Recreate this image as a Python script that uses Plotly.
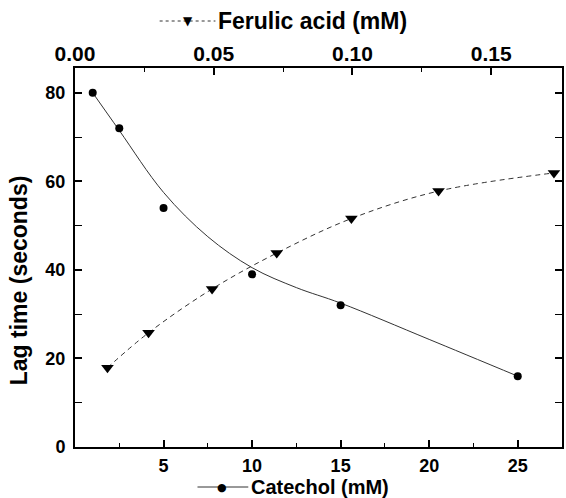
import plotly.graph_objects as go

# Catechol series (bottom axis, mM) and its fitted trend line
catechol_mm = [1, 2.5, 5, 10, 15, 25]
catechol_lag = [80, 72, 54, 39, 32, 16]
catechol_fit_mm = [1, 2.5, 5, 7.5, 10, 12.5, 15, 20, 25]
catechol_fit_lag = [80, 71.5, 57.5, 47.5, 40.5, 36, 32.5, 24.3, 16]

# Ferulic acid series (top axis, mM)
ferulic_mm = [0.0117, 0.0265, 0.0494, 0.0727, 0.0996, 0.131, 0.1726]
ferulic_lag = [17.9, 25.8, 35.7, 43.8, 51.6, 57.8, 61.9]

bottom_ticks = [5, 10, 15, 20, 25]
bottom_minor = [2.5, 7.5, 12.5, 17.5, 22.5]
top_ticks = [0.0, 0.05, 0.10, 0.15]
top_minor = [0.025, 0.075, 0.125]
y_ticks = [0, 20, 40, 60, 80]

FONT = "Liberation Sans"
INK = "black"

# plot-area geometry in pixels
L, R, T, B = 75, 2, 68, 51
W, H = 566, 498
PW, PH = W - L - R, H - T - B


def px(xp):
    return (xp - L) / PW


def py(yp):
    return (H - B - yp) / PH


fig = go.Figure()

fig.add_trace(go.Scatter(
    x=catechol_fit_mm, y=catechol_fit_lag, mode="lines",
    line=dict(color="#333333", width=1, shape="spline", smoothing=1.0),
    xaxis="x", yaxis="y", hoverinfo="skip", showlegend=False))
fig.add_trace(go.Scatter(
    x=catechol_mm, y=catechol_lag, mode="markers",
    marker=dict(symbol="circle", size=8, color=INK),
    xaxis="x", yaxis="y", name="Catechol", showlegend=False))

fig.add_trace(go.Scatter(
    x=ferulic_mm, y=ferulic_lag, mode="lines+markers",
    line=dict(color="#333333", width=1, dash="5px,4px", shape="spline", smoothing=1.0),
    marker=dict(symbol="triangle-down", size=11, color=INK),
    xaxis="x2", yaxis="y", name="Ferulic acid", showlegend=False))

axis_common = dict(
    showgrid=False, zeroline=False, showline=True, linecolor=INK, linewidth=2,
    ticks="inside", ticklen=7, tickwidth=1.5, tickcolor=INK,
)


def tick_font(size):
    return dict(family=FONT, size=size, color=INK, weight="bold")


fig.update_layout(
    width=W, height=H,
    margin=dict(l=L, r=R, t=T, b=B),
    paper_bgcolor="white", plot_bgcolor="white",
    xaxis=dict(
        **axis_common, tickfont=tick_font(18),
        range=[0, 27.5], tickmode="array", tickvals=bottom_ticks,
        minor=dict(tickmode="array", tickvals=bottom_minor, ticks="inside",
                   ticklen=4, tickwidth=1.2, tickcolor=INK),
        mirror=False, ticklabelstandoff=1,
    ),
    xaxis2=dict(
        **axis_common, tickfont=tick_font(21),
        range=[0, 0.1755], overlaying="x", side="top",
        tickmode="array", tickvals=top_ticks, tickformat=".2f",
        minor=dict(tickmode="array", tickvals=top_minor, ticks="inside",
                   ticklen=4, tickwidth=1.2, tickcolor=INK),
        ticklabelstandoff=-3,
    ),
    yaxis=dict(
        **axis_common, tickfont=tick_font(18),
        range=[0, 85.6], tickmode="array", tickvals=y_ticks,
        minor=dict(dtick=10, ticks="inside", ticklen=7, tickwidth=1.2, tickcolor=INK),
        mirror="ticks", ticklabelstandoff=4,
    ),
)

# Y axis title
fig.add_annotation(
    text="Lag time (seconds)", xref="paper", yref="paper",
    x=px(19), y=py(280), xanchor="center", yanchor="middle", textangle=-90,
    showarrow=False, font=dict(family=FONT, size=23, color=INK, weight="bold"))

# Top axis title with its line key
ty = py(21)
fig.add_shape(type="line", xref="paper", yref="paper",
              x0=px(160), x1=px(216), y0=ty, y1=ty,
              line=dict(color="#333333", width=1, dash="3px,3px"))
fig.add_annotation(
    text="▼", xref="paper", yref="paper",
    x=px(188), y=ty, xanchor="center", yanchor="middle",
    showarrow=False, font=dict(family="DejaVu Sans", size=12, color=INK))
fig.add_annotation(
    text="Ferulic acid (mM)", xref="paper", yref="paper",
    x=px(217), y=ty, xanchor="left", yanchor="middle",
    showarrow=False, font=dict(family=FONT, size=23, color=INK, weight="bold"))

# Bottom axis title with its marker key
by = py(487)
fig.add_shape(type="line", xref="paper", yref="paper",
              x0=px(198), x1=px(249), y0=by, y1=by,
              line=dict(color="#333333", width=1))
fig.add_annotation(
    text="●", xref="paper", yref="paper",
    x=px(223), y=by, xanchor="center", yanchor="middle",
    showarrow=False, font=dict(family="DejaVu Sans", size=11, color=INK))
fig.add_annotation(
    text="Catechol (mM)", xref="paper", yref="paper",
    x=px(250), y=by, xanchor="left", yanchor="middle",
    showarrow=False, font=dict(family=FONT, size=20, color=INK, weight="bold"))

fig.write_html("out.html")
